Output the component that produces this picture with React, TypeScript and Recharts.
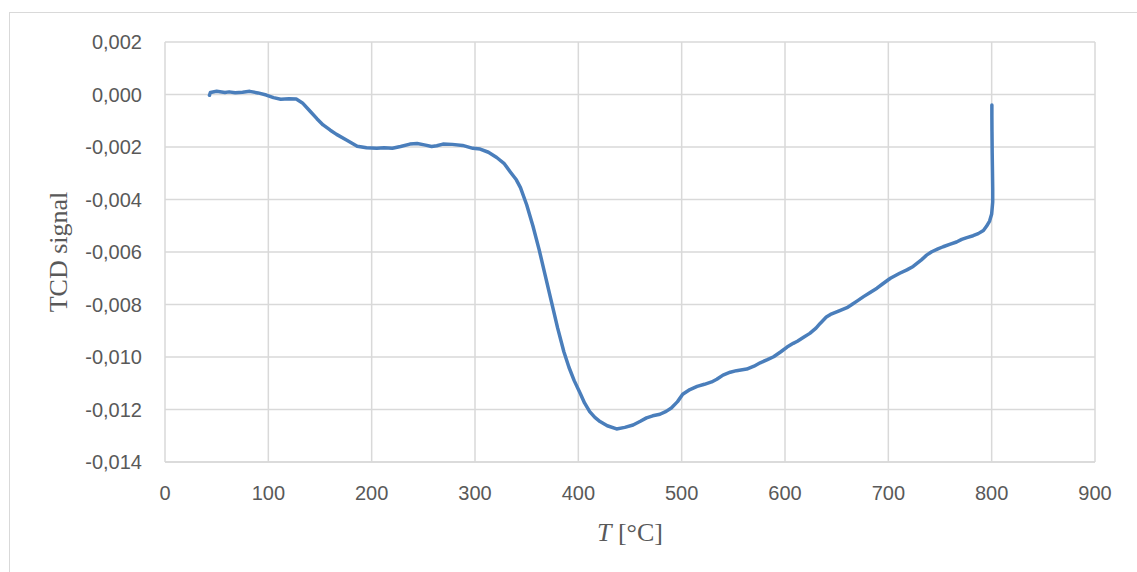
import { LineChart, Line, XAxis, YAxis, CartesianGrid, Label } from 'recharts';

// temperature [°C]
const temperature = [
  43, 44, 50, 58, 62, 68, 75, 82, 90, 98,
  105, 112, 120, 127, 133, 140, 147, 153, 160, 166,
  176, 186, 195, 205, 212, 220, 228, 237, 244, 251,
  258, 263, 269, 278, 288, 298, 305, 313, 321, 328,
  334, 340, 344, 350, 356, 362, 368, 374, 380, 386,
  391, 396, 402, 406, 411, 416, 421, 428, 437, 445,
  453, 460, 466, 472, 479, 485, 490, 496, 501, 508,
  515, 522, 529, 534, 540, 547, 553, 563, 570, 576,
  583, 589, 596, 602, 608, 612, 618, 624, 630, 634,
  640, 644, 653, 660, 664, 670, 676, 682, 689, 695,
  702, 711, 718, 724, 732, 737, 742, 748, 753, 760,
  766, 771, 776, 782, 787, 792, 795, 798, 800, 801,
  801, 800.8, 800.5, 800.3, 800.2, 800.2,
];

// TCD signal
const signal = [
  -0.00003, 0.00008, 0.00012, 0.00008, 0.0001, 0.00007, 0.00009, 0.00012, 0.00006, -0.00002,
  -0.00012, -0.00018, -0.00016, -0.00017, -0.00032, -0.00062, -0.00092, -0.00116, -0.00136, -0.00152,
  -0.00174, -0.00197, -0.00203, -0.00205, -0.00203, -0.00205, -0.00198, -0.00189, -0.00187, -0.00192,
  -0.00198, -0.00195, -0.00189, -0.0019, -0.00194, -0.00205, -0.00208, -0.0022, -0.0024, -0.00262,
  -0.00294, -0.00325, -0.00355, -0.0042, -0.005, -0.0059, -0.0069, -0.0079, -0.0089, -0.0098,
  -0.0104, -0.0109, -0.0114, -0.01175, -0.01208, -0.0123, -0.01246, -0.01262, -0.01274, -0.01268,
  -0.01259, -0.01245, -0.01232, -0.01224, -0.01218, -0.01207, -0.01194, -0.0117, -0.01142, -0.01124,
  -0.01112, -0.01104, -0.01095, -0.01085, -0.01069, -0.01058, -0.01052, -0.01046, -0.01035, -0.01022,
  -0.0101, -0.00999, -0.0098, -0.00962, -0.00948, -0.0094, -0.00925, -0.0091, -0.0089, -0.00872,
  -0.00848, -0.00838, -0.00823, -0.00812, -0.00802, -0.00786, -0.0077, -0.00755, -0.00738, -0.0072,
  -0.007, -0.00681, -0.00668, -0.00655, -0.0063, -0.00612, -0.00599, -0.00588, -0.0058, -0.0057,
  -0.00562, -0.00552, -0.00545, -0.00538, -0.0053, -0.00518, -0.00502, -0.00482, -0.00455, -0.0041,
  -0.0036, -0.003, -0.0022, -0.0014, -0.0008, -0.0004,
];

const xTicks = [0, 100, 200, 300, 400, 500, 600, 700, 800, 900];
const yTicks = [0.002, 0, -0.002, -0.004, -0.006, -0.008, -0.01, -0.012, -0.014];

const data = temperature.map((t, i) => ({ t, v: signal[i] }));

const GRID = '#d9d9d9';
const TEXT = '#595959';
const tickStyle = { fill: TEXT, fontSize: 20, fontFamily: '"Liberation Sans", Arial, sans-serif' };

const formatY = (v: number) => v.toFixed(3).replace('.', ',');

const XTitle = (props: any) => {
  const vb = props.viewBox;
  return (
    <text
      x={vb.x + vb.width / 2}
      y={541}
      textAnchor="middle"
      fill={TEXT}
      fontSize={26}
      fontFamily='"Liberation Serif", "Times New Roman", serif'
    >
      <tspan fontStyle="italic">T</tspan> [°C]
    </text>
  );
};

const YTitle = () => (
  <text
    x={58}
    y={252}
    transform="rotate(-90 58 252)"
    textAnchor="middle"
    dominantBaseline="central"
    fill={TEXT}
    fontSize={26}
    fontFamily='"Liberation Serif", "Times New Roman", serif'
  >
    TCD signal
  </text>
);

export default function App() {
  return (
    <div style={{ position: 'fixed', left: 0, top: 0, width: 1137, height: 572, background: '#fff', overflow: 'hidden' }}>
      <div
        style={{
          position: 'absolute',
          left: 9,
          top: 12,
          width: 1140,
          height: 600,
          border: `1px solid ${GRID}`,
        }}
      />
      <div style={{ position: 'absolute', left: 0, top: 0 }}>
        <LineChart width={1137} height={572} data={data} margin={{ top: 42, right: 42, left: 65, bottom: 50 }}>
          <CartesianGrid stroke={GRID} strokeWidth={1.5} />
          <XAxis
            type="number"
            dataKey="t"
            domain={[0, 900]}
            ticks={xTicks}
            allowDataOverflow
            height={60}
            tick={tickStyle}
            tickLine={false}
            tickSize={0}
            tickMargin={24}
            axisLine={{ stroke: GRID, strokeWidth: 1.5 }}
          >
            <Label content={XTitle} />
          </XAxis>
          <YAxis
            type="number"
            domain={[-0.014, 0.002]}
            ticks={yTicks}
            allowDataOverflow
            width={100}
            tick={tickStyle}
            tickFormatter={formatY}
            tickLine={false}
            tickSize={0}
            tickMargin={23}
            axisLine={false}
          >
            <Label content={YTitle} />
          </YAxis>
          <Line
            type="linear"
            dataKey="v"
            stroke="#4a7ebb"
            strokeWidth={3.5}
            dot={false}
            isAnimationActive={false}
            strokeLinejoin="round"
            strokeLinecap="round"
          />
        </LineChart>
      </div>
    </div>
  );
}
